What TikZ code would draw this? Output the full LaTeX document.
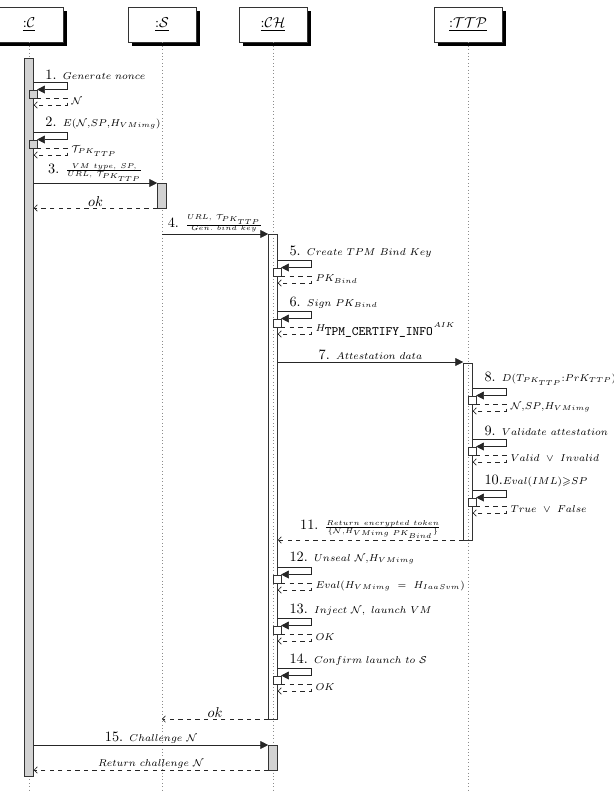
\documentclass[tikz,border=0pt]{standalone}
\usepackage{amssymb}
\usepackage{tikz}
\usetikzlibrary{arrows.meta,calc,shadows}
\newlength\pxu
\setlength\pxu{0.7pt}
\newcommand{\msg}[2]{{\normalsize #1}{\scriptsize$#2$}}
% self call: name, bar, top y, number, text, reply
\newcommand{\selfcall}[6]{%
  \coordinate (#1) at (0,#3);
  \coordinate (#1end) at ($(#2.east |- #1)+(33,0)$);
  \coordinate (#1low) at ($(#1end)+(0,23)$);
  \node[nest,anchor=north west] (#1box) at ($(#2.center |- #1)+(0,7.5)$) {};
  \draw[call] (#2.east |- #1) -- (#1end) -- (#1end |- #1box.north) -- (#1box.north east);
  \draw[reply] (#1box.south east) -- (#1end |- #1box.south) -- (#1low) -- (#2.east |- #1low);
  \node[msglabel,anchor=south west] (#1txt) at ($(#2.east |- #1)+(10,-1)$) {\msg{#4}{#5}};
  \node[msglabel,anchor=west] (#1ans) at ($(#1end)+(3,19)$) {\scriptsize$#6$};
}

\begin{document}
\begin{tikzpicture}[
  x=\pxu,y=-\pxu,
  head/.style={draw=black!80,fill=white,minimum width=68\pxu,minimum height=35\pxu,inner sep=0pt,
    drop shadow={fill=black,opacity=1,shadow xshift=2.8pt,shadow yshift=-2.8pt}},
  lifeline/.style={dotted,draw=black!45},
  bar/.style={draw=black!80,fill=gray!35,minimum width=9\pxu,inner sep=0pt},
  openbar/.style={bar,fill=none},
  nest/.style={draw=black!80,fill=white,minimum width=7.5\pxu,minimum height=8\pxu,inner sep=0pt},
  call/.style={draw=black!85,-{Triangle[length=5.5pt,width=5.5pt]}},
  reply/.style={draw=black!85,dashed,-{Straight Barb[length=2.2pt,width=4.5pt]}},
  msglabel/.style={inner sep=1pt}
]
\useasboundingbox (0,0) rectangle (614,800);

% participants
\node[head] (c) at (29,24.5) {\underline{${:}\mathcal{C}$}};
\node[head] (s) at (162,24.5) {\underline{${:}\mathcal{S}$}};
\node[head] (ch) at (273,24.5) {\underline{${:}\mathcal{CH}$}};
\node[head] (ttp) at (468,24.5) {\underline{${:}\mathcal{TTP}$}};

\coordinate (bottom) at (0,793);
\draw[lifeline] (c.south) -- (c |- bottom);
\draw[lifeline] (s.south) -- (s |- bottom);
\draw[lifeline] (ch.south) -- (ch |- bottom);
\draw[lifeline] (ttp.south) -- (ttp |- bottom);

% activations
\node[bar,minimum height=718\pxu] (barC) at (29,417) {};
\node[bar,minimum height=25\pxu] (barS) at (162,195.5) {};
\node[openbar,minimum height=485\pxu] (barCH) at (273,476.5) {};
\node[openbar,minimum height=177\pxu] (barTTP) at (468,451.5) {};
\node[bar,minimum height=25\pxu] (barCH2) at (273,757.5) {};

% client
\begin{scope}[nest/.append style={fill=gray!35}]
\selfcall{c1}{barC}{82}{1. }{Generate\ nonce}{\mathcal{N}}
\selfcall{c2}{barC}{132}{2. }{E(\mathcal{N}{,}SP{,}H_{VMimg})}{\mathcal{T}_{PK_{TTP}}}
\end{scope}

\coordinate (m3) at (0,183);
\draw[call] (barC.east |- m3) -- node[msglabel,above] (t3) {\msg{3. }{\frac{VM\ type,\ SP,}{URL,\ \mathcal{T}_{PK_{TTP}}}}} (barS.west |- m3);
\coordinate (r3) at (0,208);
\draw[reply] (barS.west |- r3) -- node[msglabel,above] (ok1) {$ok$} (barC.east |- r3);

\coordinate (m4) at (0,234);
\draw[call] (s |- m4) -- node[msglabel,above] (t4) {\msg{4. }{\frac{URL,\ \mathcal{T}_{PK_{TTP}}}{Gen.\ bind\ key}}} (barCH.west |- m4);

% cloud host
\selfcall{ch5}{barCH}{260}{5. }{Create\ TPM\ Bind\ Key}{PK_{Bind}}
\selfcall{ch6}{barCH}{311}{6. }{Sign\ PK_{Bind}}{{H_{\mbox{\small\texttt{TPM\_CERTIFY\_INFO}}}}^{AIK}}

\coordinate (m7) at (0,362);
\draw[call] (barCH.east |- m7) -- node[msglabel,above] (t7) {\msg{7. }{Attestation\ data}} (barTTP.west |- m7);

% trusted third party
\selfcall{ttp8}{barTTP}{388}{8. }{D(T_{PK_{TTP}}{:}PrK_{TTP})}{\mathcal{N}{,}SP{,}H_{VMimg}}
\selfcall{ttp9}{barTTP}{439}{9. }{Validate\ attestation}{Valid\ \vee\ Invalid}
\selfcall{ttp10}{barTTP}{490}{10.}{Eval(IML){\geqslant}SP}{True\ \vee\ False}

\coordinate (r11) at (0,540);
\draw[reply] (barTTP.west |- r11) -- node[msglabel,above] (t11) {\msg{11. }{\frac{Return\ encrypted\ token}{\{\mathcal{N}{,}H_{VMimg\ PK_{Bind}}\}}}} (barCH.east |- r11);

\selfcall{ch12}{barCH}{567}{12. }{Unseal\ \mathcal{N}{,}H_{VMimg}}{Eval(H_{VMimg}\ =\ H_{IaaSvm})}
\selfcall{ch13}{barCH}{618}{13. }{Inject\ \mathcal{N},\ launch\ VM}{OK}
\selfcall{ch14}{barCH}{668}{14. }{Confirm\ launch\ to\ \mathcal{S}}{OK}

\coordinate (r14) at (0,719);
\draw[reply] (barCH.west |- r14) -- node[msglabel,above] (ok2) {$ok$} (s |- r14);

\coordinate (m15) at (0,745);
\draw[call] (barC.east |- m15) -- node[msglabel,above] (t15) {\msg{15. }{Challenge\ \mathcal{N}}} (barCH2.west |- m15);
\coordinate (r15) at (0,770);
\draw[reply] (barCH2.west |- r15) -- node[msglabel,above] (t16) {\scriptsize$Return\ challenge\ \mathcal{N}$} (barC.east |- r15);
\end{tikzpicture}
\end{document}
